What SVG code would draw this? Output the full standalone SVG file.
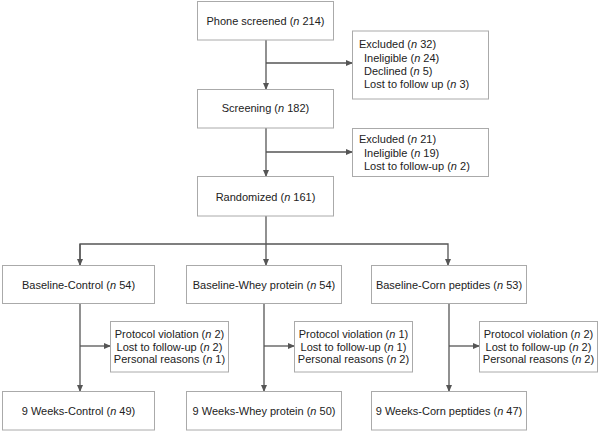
<svg xmlns="http://www.w3.org/2000/svg" width="600" height="432" viewBox="0 0 600 432">
<defs>
<style>
.box{fill:#fff;stroke:#aaa;stroke-width:1}
.t{font-family:"Liberation Sans",Arial,sans-serif;font-size:11px;fill:#222}
.c{text-anchor:middle}
.i{font-style:italic}
.ln{fill:none;stroke:#555;stroke-width:1.3}
</style>
<marker id="ah" markerWidth="7" markerHeight="6" refX="6" refY="3" orient="auto" markerUnits="userSpaceOnUse">
<path d="M0,0 L7,3 L0,6 Z" fill="#555"/>
</marker>
</defs>
<rect width="600" height="432" fill="#fff"/>
<g id="connectors">
<line class="ln" x1="266" y1="40" x2="266" y2="89" marker-end="url(#ah)"/>
<line class="ln" x1="266" y1="63" x2="352" y2="63" marker-end="url(#ah)"/>
<line class="ln" x1="266" y1="128" x2="266" y2="176" marker-end="url(#ah)"/>
<line class="ln" x1="266" y1="152" x2="352" y2="152" marker-end="url(#ah)"/>
<line class="ln" x1="266" y1="216" x2="266" y2="265" marker-end="url(#ah)"/>
<path class="ln" d="M80,265 V244 H448 V265" marker-end="url(#ah)"/>
<line class="ln" x1="80" y1="244" x2="80" y2="265" marker-end="url(#ah)"/>
<line class="ln" x1="80" y1="303" x2="80" y2="391" marker-end="url(#ah)"/>
<line class="ln" x1="80" y1="346" x2="110" y2="346" marker-end="url(#ah)"/>
<line class="ln" x1="264" y1="303" x2="264" y2="391" marker-end="url(#ah)"/>
<line class="ln" x1="264" y1="346" x2="294" y2="346" marker-end="url(#ah)"/>
<line class="ln" x1="449" y1="303" x2="449" y2="391" marker-end="url(#ah)"/>
<line class="ln" x1="449" y1="346" x2="479" y2="346" marker-end="url(#ah)"/>
</g>
<g id="phone">
<rect class="box" x="197.5" y="1.5" width="136" height="38.5"/>
<text class="t c" x="265.5" y="25">Phone screened (<tspan class="i">n</tspan> 214)</text>
</g>
<g id="excluded1">
<rect class="box" x="352.5" y="31" width="136" height="68"/>
<text class="t" x="359" y="48">Excluded (<tspan class="i">n</tspan> 32)</text>
<text class="t" x="364" y="62">Ineligible (<tspan class="i">n</tspan> 24)</text>
<text class="t" x="364" y="75">Declined (<tspan class="i">n</tspan> 5)</text>
<text class="t" x="364" y="88">Lost to follow up (<tspan class="i">n</tspan> 3)</text>
</g>
<g id="screening">
<rect class="box" x="197.5" y="89.5" width="136" height="38.5"/>
<text class="t c" x="265.5" y="112">Screening (<tspan class="i">n</tspan> 182)</text>
</g>
<g id="excluded2">
<rect class="box" x="352.5" y="128.5" width="136" height="48"/>
<text class="t" x="359" y="143">Excluded (<tspan class="i">n</tspan> 21)</text>
<text class="t" x="364" y="157">Ineligible (<tspan class="i">n</tspan> 19)</text>
<text class="t" x="364" y="170">Lost to follow-up (<tspan class="i">n</tspan> 2)</text>
</g>
<g id="randomized">
<rect class="box" x="197.5" y="176.5" width="136" height="39.5"/>
<text class="t c" x="265.5" y="201">Randomized (<tspan class="i">n</tspan> 161)</text>
</g>
<g id="baseline-control">
<rect class="box" x="2.5" y="265.5" width="152" height="38"/>
<text class="t c" x="78.5" y="289">Baseline-Control (<tspan class="i">n</tspan> 54)</text>
</g>
<g id="baseline-whey">
<rect class="box" x="186.5" y="265.5" width="155" height="38"/>
<text class="t c" x="264" y="289">Baseline-Whey protein (<tspan class="i">n</tspan> 54)</text>
</g>
<g id="baseline-corn">
<rect class="box" x="371.5" y="265.5" width="155" height="38"/>
<text class="t c" x="449" y="289">Baseline-Corn peptides (<tspan class="i">n</tspan> 53)</text>
</g>
<g id="loss-control">
<rect class="box" x="110.5" y="321.5" width="118" height="50.5"/>
<text class="t c" x="169.5" y="338">Protocol violation (<tspan class="i">n</tspan> 2)</text>
<text class="t c" x="169.5" y="350.5">Lost to follow-up (<tspan class="i">n</tspan> 2)</text>
<text class="t c" x="169.5" y="363">Personal reasons (<tspan class="i">n</tspan> 1)</text>
</g>
<g id="loss-whey">
<rect class="box" x="294.5" y="321.5" width="118" height="50.5"/>
<text class="t c" x="353.5" y="338">Protocol violation (<tspan class="i">n</tspan> 1)</text>
<text class="t c" x="353.5" y="350.5">Lost to follow-up (<tspan class="i">n</tspan> 1)</text>
<text class="t c" x="353.5" y="363">Personal reasons (<tspan class="i">n</tspan> 2)</text>
</g>
<g id="loss-corn">
<rect class="box" x="479.5" y="321.5" width="118" height="50.5"/>
<text class="t c" x="538.5" y="338">Protocol violation (<tspan class="i">n</tspan> 2)</text>
<text class="t c" x="538.5" y="350.5">Lost to follow-up (<tspan class="i">n</tspan> 2)</text>
<text class="t c" x="538.5" y="363">Personal reasons (<tspan class="i">n</tspan> 2)</text>
</g>
<g id="week9-control">
<rect class="box" x="2.5" y="391.5" width="152" height="38.5"/>
<text class="t c" x="78.5" y="415">9 Weeks-Control (<tspan class="i">n</tspan> 49)</text>
</g>
<g id="week9-whey">
<rect class="box" x="186.5" y="391.5" width="155" height="38.5"/>
<text class="t c" x="264" y="415">9 Weeks-Whey protein (<tspan class="i">n</tspan> 50)</text>
</g>
<g id="week9-corn">
<rect class="box" x="371.5" y="391.5" width="155" height="38.5"/>
<text class="t c" x="449" y="415">9 Weeks-Corn peptides (<tspan class="i">n</tspan> 47)</text>
</g>
</svg>
